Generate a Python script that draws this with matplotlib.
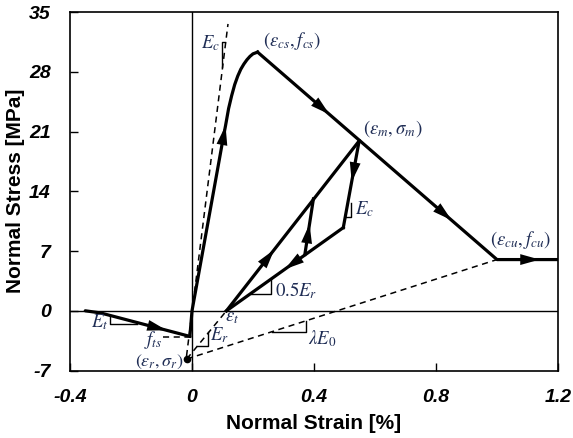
import numpy as np
import matplotlib
matplotlib.use('Agg')
import matplotlib.pyplot as plt

plt.rcParams['font.family'] = ['Liberation Sans', 'DejaVu Sans']
plt.rcParams['mathtext.fontset'] = 'stix'
plt.rcParams['axes.unicode_minus'] = False

# envelope data (strain %, stress MPa)
tens_x = [-0.35, -0.30, -0.007]
tens_y = [0.0, -0.25, -3.0]
env_x = [-0.007, 0.0, 0.045, 0.090, 0.100, 0.110, 0.120, 0.130, 0.140,
         0.150, 0.160, 0.170, 0.180, 0.190, 0.200, 0.215]
env_y = [-3.0, 0.0, 8.9, 17.8, 19.8, 21.7, 23.7, 25.2, 26.5,
         27.5, 28.3, 28.9, 29.4, 29.8, 30.1, 30.3]
soft_x = [0.215, 1.0, 1.2]
soft_y = [30.3, 6.0, 6.0]

# unloading / reloading loop
eps_t = (0.113, 0.0)
pt_m = (0.548, 19.9)
pt_u = (0.496, 9.74)
pt_p = (0.370, 6.6)
pt_q = (0.398, 13.1)

# dashed reference lines
pt_r = (-0.0174, -5.65)
ec_x = [-0.018, 0.118]
ec_y = [-5.3, 33.6]
lam_x = [pt_r[0], 1.0]
lam_y = [pt_r[1], 6.0]
fts_x = [-0.095, -0.012]
fts_y = [-3.1, -3.1]

xticks = [-0.4, 0, 0.4, 0.8, 1.2]
xticklabels = ['-0.4', '0', '0.4', '0.8', '1.2']
yticks = [-7, 0, 7, 14, 21, 28, 35]

fig = plt.figure(figsize=(5.73, 4.38), dpi=100)
ax = fig.add_axes([0.1222, 0.154, 0.8516, 0.8186])
ax.set_xlim(-0.4, 1.2)
ax.set_ylim(-7, 35)

ax.axhline(0, color='k', lw=1.0)
ax.axvline(0, color='k', lw=1.0)

lw = 2.3
ax.plot(tens_x, tens_y, 'k-', lw=lw, solid_capstyle='round')
ax.plot(env_x, env_y, 'k-', lw=lw, solid_joinstyle='round')
ax.plot(soft_x, soft_y, 'k-', lw=lw)
ax.plot([pt_m[0], pt_u[0]], [pt_m[1], pt_u[1]], 'k-', lw=lw)
ax.plot([pt_u[0], eps_t[0]], [pt_u[1], eps_t[1]], 'k-', lw=lw)
ax.plot([eps_t[0], pt_m[0]], [eps_t[1], pt_m[1]], 'k-', lw=lw)
ax.plot([pt_p[0], pt_q[0]], [pt_p[1], pt_q[1]], 'k-', lw=lw)

ds = dict(color='k', lw=1.1, ls=(0, (4, 3)))
ax.plot(ec_x, ec_y, **ds)
ax.plot([pt_r[0], eps_t[0]], [pt_r[1], eps_t[1]], **ds)
ax.plot(lam_x, lam_y, **ds)
ax.plot(fts_x, fts_y, **ds)
ax.plot(pt_r[0], pt_r[1], 'ko', ms=4.5)


def arrow_on(p0, p1, frac):
    # arrowhead located at frac along segment p0->p1
    p0 = np.array(p0); p1 = np.array(p1)
    tip = p0 + frac * (p1 - p0)
    tail = p0 + (frac - 0.01) * (p1 - p0)
    ax.annotate('', xy=tip, xytext=tail,
                arrowprops=dict(arrowstyle='-|>,head_length=1.0,head_width=0.28',
                                mutation_scale=14, color='k', lw=0,
                                shrinkA=0, shrinkB=0))

arrow_on((env_x[4], env_y[4]), (env_x[5], env_y[5]), 0.99)
arrow_on((soft_x[0], soft_y[0]), (soft_x[1], soft_y[1]), 0.30)
arrow_on((soft_x[0], soft_y[0]), (soft_x[1], soft_y[1]), 0.81)
arrow_on((soft_x[1], soft_y[1]), (soft_x[2], soft_y[2]), 0.70)
arrow_on((tens_x[1], tens_y[1]), (tens_x[2], tens_y[2]), 0.74)
arrow_on(pt_m, pt_u, 0.47)
arrow_on(pt_u, eps_t, 0.50)
arrow_on(eps_t, pt_m, 0.36)
arrow_on(pt_p, pt_q, 0.55)

# slope triangles
tri = dict(color='k', lw=1.0)
ax.plot([0.098, 0.098, 0.109], [28.5, 31.5, 31.5], **tri)
ax.plot([0.192, 0.258, 0.258], [2.0, 2.0, 3.68], **tri)
ax.plot([0.502, 0.520, 0.520], [11.0, 11.0, 12.6], **tri)
ax.plot([0.015, 0.053, 0.053], [-4.1, -4.1, -2.5], **tri)
ax.plot([0.261, 0.374, 0.374], [-2.43, -2.43, -1.14], **tri)
ax.plot([-0.269, -0.269, -0.181], [-0.6, -1.53, -1.53], **tri)

tc = '#1f2d55'
fs = 13.5
ax.text(0.028, 31.4, r'$E_c$', color=tc, fontsize=fs, ha='left', va='center')
ax.text(0.232, 31.6, r'$(\epsilon_{cs}, f_{cs})$', color=tc, fontsize=fs, va='center')
ax.text(0.562, 21.4, r'$(\epsilon_m, \sigma_m)$', color=tc, fontsize=fs, va='center')
ax.text(0.534, 11.85, r'$E_c$', color=tc, fontsize=fs, va='center')
ax.text(0.977, 8.3, r'$(\epsilon_{cu}, f_{cu})$', color=tc, fontsize=fs, va='center')
ax.text(0.272, 2.4, r'$0.5E_r$', color=tc, fontsize=fs, va='center')
ax.text(0.108, -0.8, r'$\epsilon_t$', color=tc, fontsize=fs, va='center')
ax.text(0.381, -3.3, r'$\lambda E_0$', color=tc, fontsize=fs, va='center')
ax.text(0.060, -2.9, r'$E_r$', color=tc, fontsize=fs, va='center')
ax.text(-0.332, -1.35, r'$E_t$', color=tc, fontsize=fs, va='center')
ax.text(-0.156, -3.45, r'$f_{ts}$', color=tc, fontsize=fs, va='center')
ax.text(-0.028, -5.95, r'$(\epsilon_r, \sigma_r)$', color=tc, fontsize=fs - 0.5,
        ha='right', va='center')

ax.set_xticks(xticks)
ax.set_xticklabels(xticklabels)
ax.set_yticks(yticks)
ax.tick_params(direction='in', length=6, width=1.0, labelsize=14)
ax.tick_params(axis='x', pad=13)
ax.tick_params(axis='y', pad=14)
for lab in ax.get_xticklabels() + ax.get_yticklabels():
    lab.set_fontweight('bold')
    lab.set_fontstyle('italic')
for s in ax.spines.values():
    s.set_linewidth(1.2)

ax.set_xlabel('Normal Strain [%]', fontsize=15, fontweight='bold', labelpad=6)
ax.set_ylabel('Normal Stress [MPa]', fontsize=15, fontweight='bold', labelpad=3)

fig.savefig('out.png', dpi=100)
